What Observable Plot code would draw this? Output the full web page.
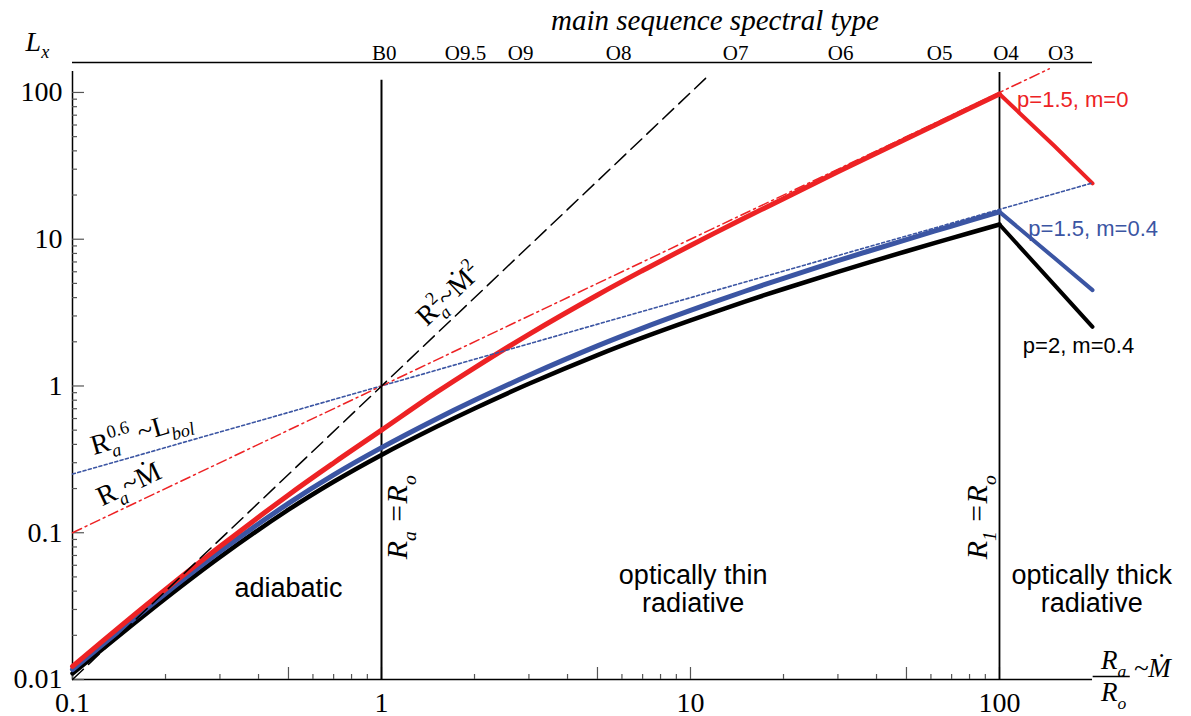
<!DOCTYPE html>
<html><head><meta charset="utf-8">
<script src="https://cdn.jsdelivr.net/npm/d3@7"></script>
<script src="https://cdn.jsdelivr.net/npm/@observablehq/plot@0.6"></script>
<style>body{margin:0;background:#fff;}</style>
</head><body><div id="chart"></div>
<script>
// ---- data ----
const xGrid = [0.1,0.15,0.2,0.3,0.5,0.7,1,1.5,2,3,5,7,10,15,20,30,50,70,100];
const redLow   = [0.0123,0.0251,0.0411,0.0805,0.181,0.299,0.50,0.90,1.33,2.25,4.17,6.12,9.07,14.0,18.9,28.8,48.4,68.1,97.5];
const blueLow  = [0.0117,0.0237,0.0386,0.0744,0.1585,0.248,0.380,0.594,0.799,1.183,1.875,2.478,3.27,4.42,5.42,7.14,9.95,12.3,15.35];
const blackLow = [0.0110,0.0220,0.0357,0.0682,0.1435,0.2225,0.339,0.525,0.703,1.035,1.624,2.135,2.80,3.755,4.58,6.00,8.28,10.18,12.6];
const xHigh = [100,150,200];
const redHigh   = [97.5,43.5,24];
const blueHigh  = [15.35,7.5,4.5];
const blackHigh = [12.6,4.92,2.53];
// reference power laws (end points)
const lbolX = [0.1,200],   lbolY = [0.251,24.2];
const mdotX = [0.1,145],   mdotY = [0.1,145];
const mdot2X = [0.1,11.2], mdot2Y = [0.01,125];
// spectral types (top axis)
const specTypes = ["B0","O9.5","O9","O8","O7","O6","O5","O4","O3"];
const specX = [1.02,1.87,2.82,5.85,14,30.6,64,105,158];
// ticks
const xTicks = [0.1,1,10,100], xTickLabels = ["0.1","1","10","100"];
const xMedium = [0.5,5,50];
const xMinor = [0.2,0.3,0.4,0.6,0.7,0.8,0.9,2,3,4,6,7,8,9,20,30,40,60,70,80,90];
const yTicks = [0.01,0.1,1,10,100], yTickLabels = ["0.01","0.1","1","10","100"];
const yMinor = [0.02,0.03,0.04,0.05,0.06,0.07,0.08,0.09,0.2,0.3,0.4,0.5,0.6,0.7,0.8,0.9,2,3,4,5,6,7,8,9,20,30,40,50,60,70,80,90];

const RED = "#ed2224", BLUE = "#3b55a3", BLACK = "#000";
const SERIF = "'Liberation Serif','Times New Roman',serif";
const SANS = "'Liberation Sans',Arial,Helvetica,sans-serif";

const pts = (xa, ya) => xa.map((x, i) => ({x, y: ya[i]}));
const xMap = new Map(xTicks.map((d, i) => [d, xTickLabels[i]]));
const yMap = new Map(yTicks.map((d, i) => [d, yTickLabels[i]]));

const plot = Plot.plot({
  width: 1191, height: 716,
  marginLeft: 72, marginRight: 99, marginTop: 62, marginBottom: 37,
  x: {type: "log", domain: [0.1, 200]},
  y: {type: "log", domain: [0.01, 160]},
  style: {fontFamily: SERIF, fontSize: "26px", background: "white", color: "black", overflow: "visible"},
  marks: [
    // axes lines
    Plot.ruleY([0.01], {x1: 0.1, x2: 200, strokeWidth: 1.5}),
    Plot.ruleX([0.1], {y1: 0.01, y2: 139, strokeWidth: 1.5}),
    Plot.ruleY([160], {x1: 0.1, x2: 200, strokeWidth: 1.3}),
    // inward ticks
    Plot.ruleX(xTicks.concat(xMedium), {x: d => d, y1: 0.01, y2: 0.01, insetTop: -12, strokeWidth: 1.2, stroke: "#555"}),
    Plot.ruleX(xMinor, {x: d => d, y1: 0.01, y2: 0.01, insetTop: -5, strokeWidth: 1.2, stroke: "#555"}),
    Plot.ruleY(yTicks, {y: d => d, x1: 0.1, x2: 0.1, insetRight: -12, strokeWidth: 1.2, stroke: "#555"}),
    Plot.ruleY(yMinor, {y: d => d, x1: 0.1, x2: 0.1, insetRight: -5, strokeWidth: 1.2, stroke: "#555"}),
    Plot.axisX({anchor: "bottom", ticks: xTicks, tickFormat: d => xMap.get(d), tickSize: 0, tickPadding: 13, fontSize: 28, fontFamily: SERIF, label: null}),
    Plot.axisY({anchor: "left", ticks: yTicks, tickFormat: d => yMap.get(d), tickSize: 0, tickPadding: 10, fontSize: 28, fontFamily: SERIF, label: null}),
    // spectral-type labels above the top rule
    Plot.text(specTypes, {x: (d, i) => specX[i], frameAnchor: "top", lineAnchor: "bottom", dy: -3, fontSize: 21, fontFamily: SERIF}),
    // regime boundaries
    Plot.ruleX([1], {y1: 0.01, y2: 121, strokeWidth: 2}),
    Plot.ruleX([100], {y1: 0.01, y2: 137, strokeWidth: 1.8}),
    // model curves
    Plot.line(pts(xGrid, blackLow), {x: "x", y: "y", stroke: BLACK, strokeWidth: 4.5, curve: "catmull-rom", strokeLinecap: "round"}),
    Plot.line(pts(xHigh, blackHigh), {x: "x", y: "y", stroke: BLACK, strokeWidth: 4, strokeLinecap: "round"}),
    Plot.line(pts(xGrid, blueLow), {x: "x", y: "y", stroke: BLUE, strokeWidth: 5, curve: "catmull-rom", strokeLinecap: "round"}),
    Plot.line(pts(xHigh, blueHigh), {x: "x", y: "y", stroke: BLUE, strokeWidth: 4, strokeLinecap: "round"}),
    Plot.line(pts(xGrid, redLow), {x: "x", y: "y", stroke: RED, strokeWidth: 5, curve: "catmull-rom", strokeLinecap: "round"}),
    Plot.line(pts(xHigh, redHigh), {x: "x", y: "y", stroke: RED, strokeWidth: 4, strokeLinecap: "round"}),
    // power-law guides
    Plot.line(pts(lbolX, lbolY), {x: "x", y: "y", stroke: BLUE, strokeWidth: 1.6, strokeDasharray: "3,2.5"}),
    Plot.line(pts(mdotX, mdotY), {x: "x", y: "y", stroke: RED, strokeWidth: 1.5, strokeDasharray: "10,4,2,4"}),
    Plot.line(pts(mdot2X, mdot2Y), {x: "x", y: "y", stroke: BLACK, strokeWidth: 1.5, strokeDasharray: "15,7"}),
    // titles / labels
    Plot.text(["main sequence spectral type"], {x: 12, y: 309, fontSize: 29, fontStyle: "italic", fontFamily: SERIF}),
    Plot.text(["L_{x}"], {x: 0.0705, y: 222, textAnchor: "start", fontSize: 28, fontStyle: "italic", fontFamily: SERIF}),
    Plot.text(["R_{a}"], {x: 234, y: 0.01346, fontSize: 27, fontStyle: "italic", fontFamily: SERIF}),
    Plot.ruleY([0.01048], {x1: 201, x2: 265, strokeWidth: 1.3}),
    Plot.text(["R_{o}"], {x: 234, y: 0.00816, fontSize: 27, fontStyle: "italic", fontFamily: SERIF}),
    Plot.text(["~Ṁ"], {x: 272, y: 0.01188, textAnchor: "start", fontSize: 27, fontStyle: "italic", fontFamily: SERIF}),
    // regime labels
    Plot.text(["adiabatic"], {x: 0.5, y: 0.042, fontSize: 27, fontFamily: SANS}),
    Plot.text(["optically thin\nradiative"], {x: 10.2, y: 0.0415, fontSize: 27, lineHeight: 1.05, fontFamily: SANS}),
    Plot.text(["optically thick\nradiative"], {x: 199, y: 0.0415, fontSize: 27, lineHeight: 1.05, fontFamily: SANS}),
    Plot.text(["R_{a} =R_{o}"], {x: 1.127, y: 0.1274, rotate: -90, fontSize: 30, fontStyle: "italic", fontFamily: SERIF}),
    Plot.text(["R_{1} =R_{o}"], {x: 85.1, y: 0.1274, rotate: -90, fontSize: 30, fontStyle: "italic", fontFamily: SERIF}),
    // curve labels
    Plot.text(["p=1.5, m=0"], {x: 114, y: 89.6, textAnchor: "start", fill: RED, fontSize: 22, fontFamily: SANS}),
    Plot.text(["p=1.5, m=0.4"], {x: 124, y: 11.7, textAnchor: "start", fill: BLUE, fontSize: 22, fontFamily: SANS}),
    Plot.text(["p=2, m=0.4"], {x: 119, y: 1.86, textAnchor: "start", fill: BLACK, fontSize: 22, fontFamily: SANS}),
    // guide labels
    Plot.text(["R_{a}^{0.6} ~L_{bol}"], {x: 0.1668, y: 0.486, rotate: -16, fontSize: 28, fontFamily: SERIF}),
    Plot.text(["R_{a}~Ṁ"], {x: 0.152, y: 0.215, rotate: -25.4, fontSize: 28, fontFamily: SERIF}),
    Plot.text(["R_{a}^{2}~Ṁ^{2}"], {x: 1.647, y: 4.22, rotate: -43.6, fontSize: 28, fontFamily: SERIF})
  ]
});
document.getElementById("chart").append(plot);

// turn _{..} and ^{..} markup into sub/superscript tspans
function richify(root) {
  root.querySelectorAll("text").forEach(el => {
    const src = el.textContent;
    if (!/[_^]\{/.test(src)) return;
    const fs = parseFloat(getComputedStyle(el).fontSize);
    while (el.firstChild) el.removeChild(el.firstChild);
    const re = /([_^])\{([^}]*)\}|([^_^]+)/g;
    let m, shift = 0, prevSub = null;
    while ((m = re.exec(src))) {
      const ts = document.createElementNS("http://www.w3.org/2000/svg", "tspan");
      let target = 0;
      if (m[3] !== undefined) {
        ts.textContent = m[3];
      } else {
        ts.textContent = m[2];
        ts.setAttribute("font-size", fs * 0.65);
        if (m[1] === "_") { target = 0.28 * fs; ts.setAttribute("font-style", "italic"); }
        else { target = -0.42 * fs; }
      }
      ts.setAttribute("dy", target - shift);
      shift = target;
      el.appendChild(ts);
      if (m[1] === "^" && prevSub) ts.setAttribute("dx", -prevSub.getComputedTextLength());
      prevSub = m[1] === "_" ? ts : null;
    }
  });
}
richify(plot);
</script>
</body></html>
